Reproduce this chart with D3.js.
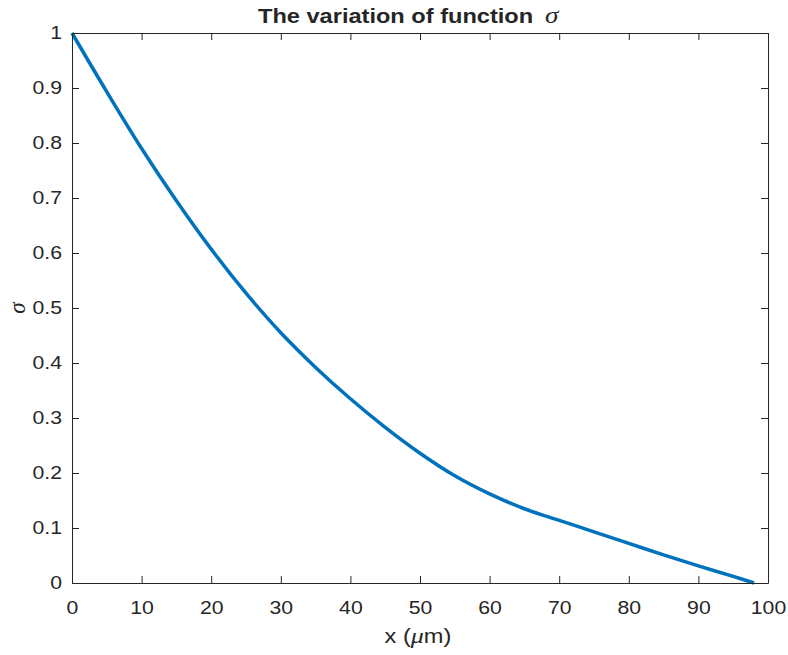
<!DOCTYPE html>
<html>
<head>
<meta charset="utf-8">
<script src="https://cdn.jsdelivr.net/npm/d3@7"></script>
<style>
  body { margin: 0; background: #fff; }
  text { font-family: "Liberation Sans", Arial, sans-serif; fill: #262626; }
</style>
</head>
<body>
<svg id="chart" width="788" height="655"></svg>
<script>
"use strict";

// Datos
const xValues = [0, 5, 10, 15, 20, 25, 30, 35, 40, 45, 50, 55, 60, 65, 70, 75, 80, 85, 90, 95, 98];
const sigmaValues = [1.0, 0.893, 0.79, 0.695, 0.607, 0.527, 0.455, 0.392, 0.335, 0.283, 0.236,
  0.195, 0.162, 0.135, 0.114, 0.093, 0.072, 0.051, 0.031, 0.012, 0];
const xTicks = [0, 10, 20, 30, 40, 50, 60, 70, 80, 90, 100];
const yTicks = [0, 0.1, 0.2, 0.3, 0.4, 0.5, 0.6, 0.7, 0.8, 0.9, 1];

const data = xValues.map((x, i) => ({ x, y: sigmaValues[i] }));

// Dimensiones
const width = 788;
const height = 655;
const margin = { top: 33, right: 20, bottom: 72, left: 72 };
const stretch = 1.18; // el texto original está algo ensanchado

const x = d3.scaleLinear().domain([0, 100]).range([margin.left, width - margin.right]);
const y = d3.scaleLinear().domain([0, 1]).range([height - margin.bottom, margin.top]);

const svg = d3.select("#chart");
const axisColor = "#262626";

// Línea
const line = d3.line()
  .x((d) => x(d.x))
  .y((d) => y(d.y))
  .curve(d3.curveCatmullRom);

svg.append("path")
  .datum(data)
  .attr("fill", "none")
  .attr("stroke", "#0072BD")
  .attr("stroke-width", 3.5)
  .attr("d", line);

// Ejes (ticks hacia dentro, como MATLAB)
function styleAxis(g) {
  g.select(".domain").attr("stroke", axisColor);
  g.selectAll(".tick line").attr("stroke", axisColor);
  g.selectAll(".tick text").attr("fill", axisColor).style("font-size", "18px");
}

const fmt = (d) => String(+d.toFixed(1));

svg.append("g")
  .attr("transform", `translate(0,${y(0)})`)
  .call(d3.axisBottom(x).tickValues(xTicks).tickFormat(fmt).tickSizeInner(-7).tickSizeOuter(0).tickPadding(18))
  .call(styleAxis)
  .call((g) => g.selectAll(".tick text").attr("transform", `scale(${stretch},1)`));

svg.append("g")
  .attr("transform", `translate(${x(0)},0)`)
  .call(d3.axisLeft(y).tickValues(yTicks).tickFormat(fmt).tickSizeInner(-7).tickSizeOuter(0).tickPadding(10 / stretch))
  .call(styleAxis)
  .call((g) => g.selectAll(".tick text").attr("transform", `scale(${stretch},1)`));

svg.append("g")
  .attr("transform", `translate(0,${y(1)})`)
  .call(d3.axisTop(x).tickValues(xTicks).tickFormat("").tickSizeInner(-7).tickSizeOuter(0))
  .call(styleAxis);

svg.append("g")
  .attr("transform", `translate(${x(100)},0)`)
  .call(d3.axisRight(y).tickValues(yTicks).tickFormat("").tickSizeInner(-7).tickSizeOuter(0))
  .call(styleAxis);

// Título
const title = svg.append("g")
  .attr("transform", `translate(258,23) scale(${stretch},1)`)
  .append("text")
  .attr("text-anchor", "start")
  .style("font-size", "20px")
  .style("font-weight", "bold")
  .attr("fill", "#000");
title.append("tspan").text("The variation of function");
title.append("tspan")
  .attr("dx", 10)
  .style("font-family", "'Liberation Serif', 'Times New Roman', serif")
  .style("font-style", "italic")
  .style("font-weight", "normal")
  .style("font-size", "23px")
  .text("σ");

// Etiqueta eje X
const xLabel = svg.append("g")
  .attr("transform", `translate(${(x(0) + x(100)) / 2 - 2},643) scale(${stretch},1)`)
  .append("text")
  .attr("text-anchor", "middle")
  .style("font-size", "20px");
xLabel.append("tspan").text("x (");
xLabel.append("tspan")
  .style("font-family", "'Liberation Serif', 'Times New Roman', serif")
  .style("font-style", "italic")
  .style("font-size", "22px")
  .text("μ");
xLabel.append("tspan").text("m)");

// Etiqueta eje Y
svg.append("g")
  .attr("transform", `translate(25,${(y(0) + y(1)) / 2}) rotate(-90)`)
  .append("text")
  .attr("text-anchor", "middle")
  .style("font-family", "'Liberation Serif', 'Times New Roman', serif")
  .style("font-style", "italic")
  .style("font-size", "23px")
  .text("σ");
</script>
</body>
</html>
